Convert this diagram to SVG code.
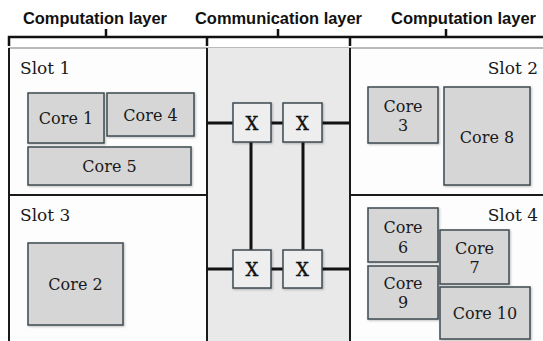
<svg xmlns="http://www.w3.org/2000/svg" width="543" height="341" viewBox="0 0 543 341">
<defs>
<filter id="sh" x="-10%" y="-10%" width="130%" height="130%">
<feDropShadow dx="1" dy="1" stdDeviation="1" flood-color="#000" flood-opacity="0.25"/>
</filter>
</defs>
<style>
.hdr{font-family:"Liberation Sans",Arial,sans-serif;font-weight:bold;font-size:16px;fill:#111}
.lbl{font-family:"DejaVu Serif","Liberation Serif",serif;font-size:16px;fill:#1a1a1a}
.xl{font-family:"DejaVu Serif","Liberation Serif",serif;font-size:18px;fill:#111;stroke:#111;stroke-width:0.4}
.slot{font-family:"DejaVu Serif","Liberation Serif",serif;font-size:17px;fill:#1a1a1a}
.core{fill:#d6d6d6;stroke:#3c4a50;stroke-width:1.5;filter:url(#sh)}
.xbox{fill:#eeeeee;stroke:#3c4a50;stroke-width:1.5;filter:url(#sh)}
.wire{stroke:#111;stroke-width:3;fill:none}
.div{stroke:#1a1a1a;stroke-width:2;fill:none}
.brk{stroke:#111;stroke-width:2.5;fill:none}
</style>
<rect width="543" height="341" fill="#ffffff"/>
<g id="headers">
<text class="hdr" x="23" y="24" textLength="144" lengthAdjust="spacingAndGlyphs">Computation layer</text>
<text class="hdr" x="195" y="24" textLength="167" lengthAdjust="spacingAndGlyphs">Communication layer</text>
<text class="hdr" x="391" y="24" textLength="145" lengthAdjust="spacingAndGlyphs">Computation layer</text>
<path class="brk" d="M9,46 V37 H543 M207,37 V46 M350,37 V46 M106,29 V37 M278,29 V37 M446,29 V37"/>
</g>
<g id="regions">
<rect x="9" y="48" width="540" height="300" fill="#fdfdfd" stroke="#777" stroke-width="1"/>
<rect x="207" y="48" width="143" height="300" fill="#e9e9e9"/>
<path class="div" d="M9,48 V341 M207,48 V341 M350,48 V341 M9,195 H207 M350,195 H543"/>
</g>
<g id="slot1">
<text class="slot" x="20" y="74">Slot 1</text>
</g>
<g id="slot2">
<text class="slot" x="538" y="74" text-anchor="end">Slot 2</text>
</g>
<g id="slot3">
<text class="slot" x="20" y="221">Slot 3</text>
</g>
<g id="slot4">
<text class="slot" x="538" y="221" text-anchor="end">Slot 4</text>
</g>
<g id="connectors">
<path class="wire" d="M207,123 H233 M271,123 H283 M322,123 H350 M207,269 H233 M271,269 H283 M322,269 H350 M251,142 V250 M303,142 V250"/>
</g>
<g id="x1"><rect class="xbox" x="233" y="103" width="38" height="39"/><text class="xl" x="252" y="130" text-anchor="middle">X</text></g>
<g id="x2"><rect class="xbox" x="283" y="103" width="39" height="39"/><text class="xl" x="302.5" y="130" text-anchor="middle">X</text></g>
<g id="x3"><rect class="xbox" x="233" y="250" width="38" height="38"/><text class="xl" x="252" y="276" text-anchor="middle">X</text></g>
<g id="x4"><rect class="xbox" x="283" y="250" width="39" height="38"/><text class="xl" x="302.5" y="276" text-anchor="middle">X</text></g>
<g id="core1"><rect class="core" x="28" y="93" width="76" height="50"/><text class="lbl" x="66" y="124" text-anchor="middle">Core 1</text></g>
<g id="core4"><rect class="core" x="107" y="93" width="87" height="43"/><text class="lbl" x="150.5" y="121" text-anchor="middle">Core 4</text></g>
<g id="core5"><rect class="core" x="28" y="147" width="163" height="38"/><text class="lbl" x="109.5" y="172" text-anchor="middle">Core 5</text></g>
<g id="core3"><rect class="core" x="368" y="87" width="70" height="56"/><text class="lbl" x="403" y="112" text-anchor="middle">Core</text><text class="lbl" x="403" y="131" text-anchor="middle">3</text></g>
<g id="core8"><rect class="core" x="444" y="87" width="86" height="98"/><text class="lbl" x="487" y="143" text-anchor="middle">Core 8</text></g>
<g id="core2"><rect class="core" x="28" y="243" width="95" height="82"/><text class="lbl" x="75.5" y="290" text-anchor="middle">Core 2</text></g>
<g id="core6"><rect class="core" x="368" y="208" width="70" height="54"/><text class="lbl" x="403" y="233" text-anchor="middle">Core</text><text class="lbl" x="403" y="253" text-anchor="middle">6</text></g>
<g id="core9"><rect class="core" x="368" y="266" width="70" height="53"/><text class="lbl" x="403" y="289" text-anchor="middle">Core</text><text class="lbl" x="403" y="308" text-anchor="middle">9</text></g>
<g id="core7"><rect class="core" x="440" y="230" width="69" height="54"/><text class="lbl" x="474.5" y="254" text-anchor="middle">Core</text><text class="lbl" x="474.5" y="273" text-anchor="middle">7</text></g>
<g id="core10"><rect class="core" x="440" y="287" width="90" height="52"/><text class="lbl" x="485" y="319" text-anchor="middle">Core 10</text></g>
</svg>
